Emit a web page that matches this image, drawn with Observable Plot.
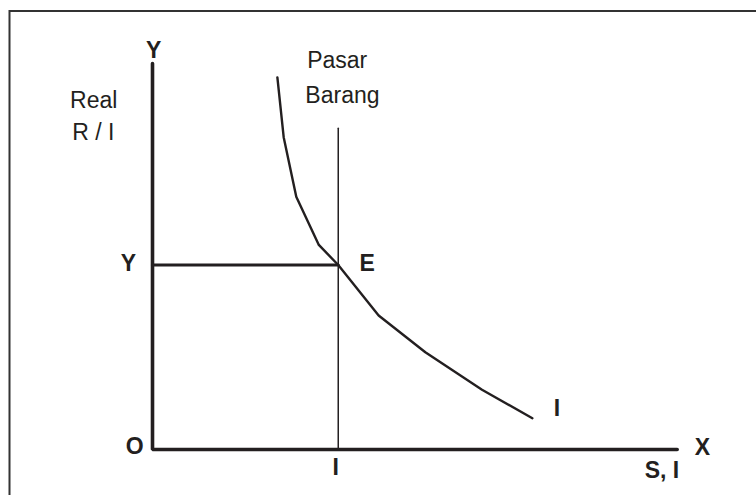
<!DOCTYPE html>
<html>
<head>
<meta charset="utf-8">
<script src="https://cdn.jsdelivr.net/npm/d3@7"></script>
<script src="https://cdn.jsdelivr.net/npm/@observablehq/plot@0.6"></script>
<style>
  html, body { margin: 0; padding: 0; background: #fff; }
  #chart svg { display: block; }
</style>
</head>
<body>
<div id="chart"></div>
<script>
// Investment curve I (S,I units vs Y units)
const curveX = [23.8, 25.0, 27.4, 31.7, 35.4, 43.1, 52.0, 62.8, 72.4];
const curveY = [96.4, 80.9, 65.5, 53.0, 47.8, 34.7, 25.2, 15.5, 8.1];

// Equilibrium point E
const eqX = 35.4;
const eqY = 47.8;
const marketLineTop = 83.2;

// Axis extents
const axisXMax = 100;
const axisYMax = 100;

// Labels
const labelText = ["Y", "Pasar", "Barang", "Real", "R / I", "Y", "E", "I", "O", "I", "X", "S, I"];
const labelX    = [0.2, 35.2, 36.2, -11.2, -11.3, -4.6, 40.9, 77.1, -3.4, 34.9, 104.8, 97.1];
const labelY    = [103.4, 100.8, 91.7, 90.4, 82.2, 48.2, 48.2, 10.6, 0.8, -4.6, 0.5, -5.4];
const labelBold = [true, false, false, false, false, true, true, true, true, true, true, true];

const ink = "#231f20";
const font = "'Liberation Sans', Arial, Helvetica, sans-serif";

const curve = curveX.map((x, i) => ({x, y: curveY[i]}));
const axes = [{x: 0, y: axisYMax}, {x: 0, y: 0}, {x: axisXMax, y: 0}];
const yLevel = [{x: 0, y: eqY}, {x: eqX, y: eqY}];
const market = [{x: eqX, y: 0}, {x: eqX, y: marketLineTop}];
const labels = labelText.map((t, i) => ({t, x: labelX[i], y: labelY[i], b: labelBold[i]}));

const chart = Plot.plot({
  width: 756,
  height: 495,
  marginTop: 10.5,
  marginLeft: 9,
  marginRight: -20,
  marginBottom: -20,
  style: {background: "#fff", fontFamily: font},
  x: {domain: [0, axisXMax], range: [152, 676.7], axis: null},
  y: {domain: [0, axisYMax], range: [449, 63], axis: null},
  marks: [
    Plot.frame({stroke: "#333", strokeWidth: 2}),
    Plot.line(market, {x: "x", y: "y", stroke: ink, strokeWidth: 1.5}),
    Plot.line(yLevel, {x: "x", y: "y", stroke: ink, strokeWidth: 3.2}),
    Plot.line(curve, {x: "x", y: "y", stroke: ink, strokeWidth: 2.4, strokeLinejoin: "round"}),
    Plot.line(axes, {x: "x", y: "y", stroke: ink, strokeWidth: 3.6, strokeLinejoin: "miter"}),
    Plot.text(labels.filter(d => !d.b), {x: "x", y: "y", text: "t", fill: ink, fontSize: 23, fontFamily: font}),
    Plot.text(labels.filter(d => d.b), {x: "x", y: "y", text: "t", fill: ink, fontSize: 23, fontWeight: "bold", fontFamily: font})
  ]
});
document.getElementById("chart").append(chart);
</script>
</body>
</html>
